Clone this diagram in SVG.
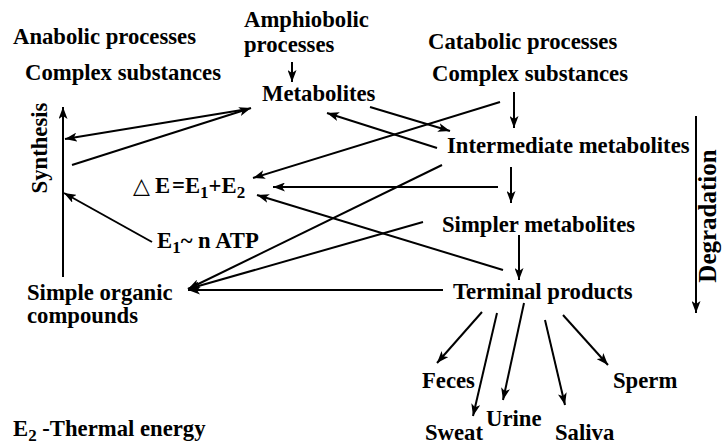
<svg xmlns="http://www.w3.org/2000/svg" width="722" height="446" viewBox="0 0 722 446">
<style>
text{font-family:"Liberation Serif","Times New Roman",serif;font-weight:bold;font-size:22.7px;fill:#000}
.sub{font-size:17px}
.tri{font-family:"DejaVu Sans",sans-serif;font-weight:normal;font-size:22px}
.c line{stroke:#000;stroke-width:2;fill:none}
.a{marker-end:url(#ah)}
</style>
<defs>
<marker id="ah" viewBox="0 0 12 9" refX="12" refY="4.5" markerWidth="12" markerHeight="9" markerUnits="userSpaceOnUse" orient="auto">
<path d="M0,0 L12,4.5 L0,9 L3,4.5 z" fill="#000"/>
</marker>
</defs>
<rect width="722" height="446" fill="#fff"/>
<g id="anabolic"><text x="13" y="44">Anabolic processes</text></g>
<g id="complex-left"><text x="25" y="80">Complex substances</text></g>
<g id="amphibolic"><text x="244" y="27">Amphiobolic</text><text x="244" y="52">processes</text></g>
<g id="metabolites"><text x="262" y="101">Metabolites</text></g>
<g id="catabolic"><text x="428" y="49">Catabolic processes</text></g>
<g id="complex-right"><text x="432" y="81">Complex substances</text></g>
<g id="intermediate"><text x="447" y="153">Intermediate metabolites</text></g>
<g id="simpler"><text x="442" y="232">Simpler metabolites</text></g>
<g id="terminal"><text x="453" y="299">Terminal products</text></g>
<g id="simple-organic"><text x="27" y="300">Simple organic</text><text x="27" y="323">compounds</text></g>
<g id="delta-e"><text x="133" y="193"><tspan class="tri">△</tspan><tspan x="155">E</tspan><tspan x="172">=E</tspan><tspan class="sub" dy="5">1</tspan><tspan dy="-5">+E</tspan><tspan class="sub" dy="5">2</tspan></text></g>
<g id="e1"><text x="157" y="248">E<tspan class="sub" dy="5">1</tspan><tspan dy="-5">~ n ATP</tspan></text></g>
<g id="e2"><text x="13" y="436">E<tspan class="sub" dy="5">2</tspan><tspan dy="-5"> -Thermal energy</tspan></text></g>
<g id="synthesis"><text transform="translate(47,148) rotate(-90)" text-anchor="middle">Synthesis</text></g>
<g id="degradation"><text transform="translate(716,216) rotate(-90)" text-anchor="middle" style="font-size:25px">Degradation</text></g>
<g id="feces"><text x="422" y="388">Feces</text></g>
<g id="sperm"><text x="613" y="388">Sperm</text></g>
<g id="urine"><text x="486" y="426">Urine</text></g>
<g id="sweat"><text x="425" y="440">Sweat</text></g>
<g id="saliva"><text x="555" y="440">Saliva</text></g>
<g id="connectors" class="c">
<line class="a" x1="292" y1="62" x2="292" y2="82"/>
<line class="a" x1="248" y1="109" x2="65" y2="139"/>
<line class="a" x1="72" y1="165" x2="251" y2="108"/>
<line class="a" x1="370" y1="107" x2="450" y2="131"/>
<line class="a" x1="437" y1="148" x2="327" y2="113"/>
<line class="a" x1="514" y1="92" x2="514" y2="128"/>
<line class="a" x1="500" y1="102" x2="253" y2="178"/>
<line class="a" x1="498" y1="187" x2="273" y2="187"/>
<line class="a" x1="511" y1="167" x2="511" y2="203"/>
<line class="a" x1="503" y1="270" x2="257" y2="195"/>
<line class="a" x1="442" y1="165" x2="188" y2="289"/>
<line class="a" x1="423" y1="222" x2="188" y2="289"/>
<line class="a" x1="443" y1="290" x2="188" y2="290"/>
<line class="a" x1="519" y1="235" x2="519" y2="280"/>
<line class="a" x1="63" y1="277" x2="63" y2="107"/>
<line class="a" x1="152" y1="242" x2="64" y2="193"/>
<line class="a" x1="696" y1="116" x2="696" y2="313"/>
<line class="a" x1="482" y1="312" x2="437" y2="363"/>
<line class="a" x1="497" y1="313" x2="473" y2="416"/>
<line class="a" x1="524" y1="303" x2="503" y2="400"/>
<line class="a" x1="545" y1="320" x2="565" y2="405"/>
<line class="a" x1="563" y1="315" x2="608" y2="365"/>
</g>
</svg>
